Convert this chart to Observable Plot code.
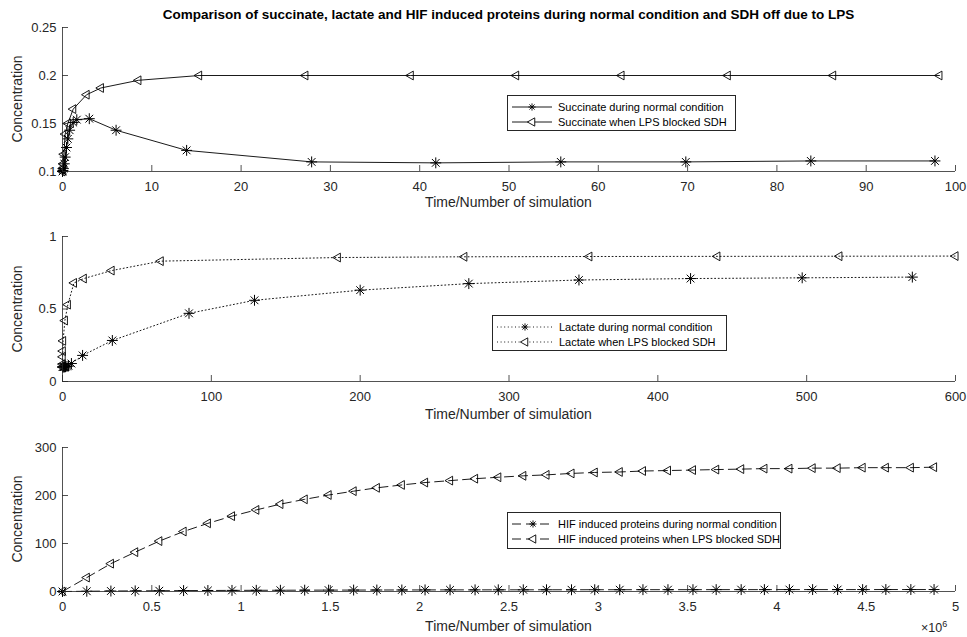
<!DOCTYPE html>
<html><head><meta charset="utf-8">
<script src="https://cdn.jsdelivr.net/npm/d3@7"></script>
<script src="https://cdn.jsdelivr.net/npm/@observablehq/plot@0.6"></script>
<style>
body{margin:0;background:#fff;font-family:"Liberation Sans",Arial,sans-serif;color:#262626;}
#fig{position:relative;width:967px;height:637px;overflow:hidden;background:#fff;}
.abs{position:absolute;}
.title{left:62px;width:893px;top:7px;text-align:center;font-weight:bold;font-size:13.5px;line-height:16px;color:#000;white-space:nowrap;}
.xlab{left:62px;width:893px;text-align:center;font-size:14px;line-height:16px;white-space:nowrap;}
.ylab{font-size:14px;line-height:16px;white-space:nowrap;transform:translate(-50%,-50%) rotate(-90deg);}
.leg{background:#fff;border:1px solid #262626;box-sizing:border-box;font-size:11px;color:#000;}
.leg svg{position:absolute;left:0;top:0;overflow:visible;}
.leg .txt{position:absolute;transform:translateY(-50%);white-space:nowrap;line-height:13px;}
</style></head><body><div id="fig"></div><script>
// ---------------- data ----------------
// Panel 1: succinate
const succNormalT = [0, 0.05, 0.1, 0.2, 0.3, 0.45, 0.6, 0.8, 1.2, 1.6, 3, 6, 13.9, 27.9, 41.8, 55.8, 69.8, 83.8, 97.7];
const succNormalV = [0.100, 0.101, 0.103, 0.108, 0.115, 0.125, 0.134, 0.143, 0.151, 0.154, 0.155, 0.143, 0.122, 0.110, 0.109, 0.110, 0.110, 0.111, 0.111];
const succLpsT = [0, 0.03, 0.08, 0.15, 0.3, 0.6, 1.2, 2.7, 4.3, 8.5, 15.3, 27.2, 39, 50.8, 62.6, 74.5, 86.3, 98.2];
const succLpsV = [0.100, 0.103, 0.108, 0.118, 0.139, 0.150, 0.165, 0.180, 0.187, 0.195, 0.200, 0.200, 0.200, 0.200, 0.200, 0.200, 0.200, 0.200];
// Panel 2: lactate
const lacNormalT = [0, 0.5, 1, 1.5, 2, 3, 4, 6, 13.5, 33.5, 85, 129, 200, 273, 347, 422, 497, 571];
const lacNormalV = [0.100, 0.100, 0.100, 0.101, 0.102, 0.104, 0.107, 0.124, 0.180, 0.283, 0.470, 0.560, 0.630, 0.675, 0.700, 0.710, 0.715, 0.720];
const lacLpsT = [0, 0.05, 0.1, 0.2, 0.4, 1.6, 3.6, 7.7, 14.3, 33, 66, 185, 270, 354, 440, 522, 600];
const lacLpsV = [0.100, 0.120, 0.170, 0.210, 0.280, 0.420, 0.530, 0.680, 0.710, 0.765, 0.830, 0.855, 0.860, 0.862, 0.863, 0.864, 0.865];
// Panel 3: HIF induced proteins (time in simulation steps)
const hifT = [0, 0.136e6, 0.271e6, 0.407e6, 0.542e6, 0.678e6, 0.814e6, 0.949e6, 1.085e6, 1.22e6, 1.356e6, 1.49e6, 1.63e6, 1.76e6, 1.90e6, 2.03e6, 2.17e6, 2.31e6, 2.44e6, 2.58e6, 2.71e6, 2.85e6, 2.98e6, 3.12e6, 3.25e6, 3.39e6, 3.53e6, 3.66e6, 3.80e6, 3.93e6, 4.07e6, 4.20e6, 4.34e6, 4.48e6, 4.61e6, 4.75e6, 4.88e6];
const hifNormalV = [0, 0.5, 1, 1.3, 1.6, 1.9, 2.1, 2.3, 2.5, 2.6, 2.8, 2.9, 3.0, 3.1, 3.2, 3.3, 3.4, 3.4, 3.5, 3.5, 3.6, 3.6, 3.7, 3.7, 3.8, 3.8, 3.8, 3.9, 3.9, 3.9, 4.0, 4.0, 4.0, 4.0, 4.1, 4.1, 4.1];
const hifLpsV = [0, 29, 58, 82, 105, 125, 142, 157, 170, 182, 192, 201, 209, 216, 222, 227, 231, 235, 238, 241, 243, 246, 248, 249, 251, 252, 253, 254, 255, 256, 256, 257, 257, 258, 258, 258, 259];

// tick labels
const ticks1X = [0, 10, 20, 30, 40, 50, 60, 70, 80, 90, 100];
const ticks1Y = [0.1, 0.15, 0.2, 0.25];
const ticks2X = [0, 100, 200, 300, 400, 500, 600];
const ticks2Y = [0, 0.5, 1];
const ticks3X = [0, 0.5e6, 1e6, 1.5e6, 2e6, 2.5e6, 3e6, 3.5e6, 4e6, 4.5e6, 5e6];
const ticks3Y = [0, 100, 200, 300];

const titleText = "Comparison of succinate, lactate and HIF induced proteins during normal condition and SDH off due to LPS";
const xLabelText = "Time/Number of simulation";
const yLabelText = "Concentration";
const legend1 = ["Succinate during normal condition", "Succinate when LPS blocked SDH"];
const legend2 = ["Lactate during normal condition", "Lactate when LPS blocked SDH"];
const legend3 = ["HIF induced proteins during normal condition", "HIF induced proteins when LPS blocked SDH"];

const zip = (T, V) => T.map((t, i) => ({t, v: V[i]}));

// ---------------- drawing ----------------
const fig = document.getElementById("fig");
const AX = "#262626";

function panel({xDomain, yDomain, xTicks, yTicks, xFmt, yFmt, normal, lps, dash, top, height, mt, mb}) {
  const lineOpts = {x: "t", y: "v", stroke: "#000", strokeWidth: 0.9, strokeDasharray: dash};
  const chart = Plot.plot({
    width: 967, height,
    marginLeft: 62, marginRight: 12, marginTop: mt, marginBottom: mb,
    x: {domain: xDomain},
    y: {domain: yDomain},
    style: {fontFamily: "'Liberation Sans', Arial, sans-serif", background: "transparent", overflow: "visible", color: AX},
    marks: [
      Plot.line(normal, lineOpts),
      Plot.line(lps, lineOpts),
      Plot.dot(normal, {x: "t", y: "v", symbol: "plus", r: 3.6, stroke: "#000", strokeWidth: 1}),
      Plot.dot(normal, {x: "t", y: "v", symbol: "times", r: 3.6, stroke: "#000", strokeWidth: 1}),
      Plot.dot(lps, {x: "t", y: "v", symbol: "triangle2", r: 4.2, rotate: -90, stroke: "#000", fill: "none", strokeWidth: 0.9}),
      Plot.ruleX([xDomain[0]], {stroke: AX, strokeWidth: 0.8}),
      Plot.ruleY([yDomain[0]], {stroke: AX, strokeWidth: 0.8}),
      Plot.axisX(xTicks, {label: null, tickSize: -6, tickPadding: 16, tickFormat: xFmt, fontSize: 13, stroke: AX, fill: AX, strokeWidth: 0.8}),
      Plot.axisY(yTicks, {label: null, tickSize: -6, tickPadding: 12, tickFormat: yFmt, fontSize: 13, stroke: AX, fill: AX, strokeWidth: 0.8})
    ]
  });
  chart.classList.add("abs");
  chart.style.left = "0px";
  chart.style.top = top + "px";
  fig.appendChild(chart);
}

const fmt = d => String(+d.toFixed(4));
panel({xDomain: [0, 100], yDomain: [0.1, 0.25], xTicks: ticks1X, yTicks: ticks1Y, xFmt: fmt, yFmt: fmt,
  normal: zip(succNormalT, succNormalV), lps: zip(succLpsT, succLpsV), dash: null, top: 0, height: 215, mt: 27, mb: 44});
panel({xDomain: [0, 600], yDomain: [0, 1], xTicks: ticks2X, yTicks: ticks2Y, xFmt: fmt, yFmt: fmt,
  normal: zip(lacNormalT, lacNormalV), lps: zip(lacLpsT, lacLpsV), dash: "1,2.6", top: 215, height: 210, mt: 21, mb: 44});
panel({xDomain: [0, 5e6], yDomain: [0, 300], xTicks: ticks3X, yTicks: ticks3Y, xFmt: d => fmt(d / 1e6), yFmt: fmt,
  normal: zip(hifT, hifNormalV), lps: zip(hifT, hifLpsV), dash: "9,5", top: 425, height: 212, mt: 22, mb: 46});

function addDiv(cls, text, css) {
  const d = document.createElement("div");
  d.className = "abs " + cls;
  d.textContent = text;
  Object.assign(d.style, css);
  fig.appendChild(d);
  return d;
}
addDiv("title", titleText, {});
[194, 406, 618].forEach(y => addDiv("xlab", xLabelText, {top: y + "px"}));
[99, 309, 519].forEach(y => addDiv("ylab", yLabelText, {left: "17px", top: y + "px"}));
const sci = addDiv("", "", {left: "921px", top: "621px", fontSize: "12.5px", lineHeight: "14px", whiteSpace: "nowrap"});
sci.innerHTML = "×10<sup style='font-size:9px;vertical-align:5px;line-height:0'>6</sup>";

const NS = "http://www.w3.org/2000/svg";
function legend(labels, {left, top, width, height, rows, sampleW, textX, dash}) {
  const box = addDiv("leg", "", {left: left + "px", top: top + "px", width: width + "px", height: height + "px"});
  labels.forEach((lab, i) => {
    const y = rows[i];
    const svg = document.createElementNS(NS, "svg");
    svg.setAttribute("width", sampleW + 8); svg.setAttribute("height", height);
    const ln = document.createElementNS(NS, "line");
    ln.setAttribute("x1", 4); ln.setAttribute("x2", 4 + sampleW); ln.setAttribute("y1", y); ln.setAttribute("y2", y);
    ln.setAttribute("stroke", "#000"); ln.setAttribute("stroke-width", 0.9);
    if (dash) ln.setAttribute("stroke-dasharray", dash);
    svg.appendChild(ln);
    const cx = 4 + sampleW / 2;
    const p = document.createElementNS(NS, "path");
    if (i === 0) {
      const r = 3.6, q = r * 0.72;
      p.setAttribute("d", `M${cx - r},${y}h${2 * r}M${cx},${y - r}v${2 * r}M${cx - q},${y - q}l${2 * q},${2 * q}M${cx - q},${y + q}l${2 * q},${-2 * q}`);
      p.setAttribute("fill", "none");
    } else {
      const r = 4.6;
      p.setAttribute("d", `M${cx - r},${y}L${cx + r * 0.6},${y - r * 0.9}L${cx + r * 0.6},${y + r * 0.9}Z`);
      p.setAttribute("fill", "#fff");
    }
    p.setAttribute("stroke", "#000"); p.setAttribute("stroke-width", 0.9);
    svg.appendChild(p);
    box.appendChild(svg);
    const t = document.createElement("div");
    t.className = "txt"; t.textContent = lab;
    t.style.left = textX + "px"; t.style.top = y + "px";
    box.appendChild(t);
  });
}
legend(legend1, {left: 507, top: 95, width: 229, height: 36, rows: [11, 26], sampleW: 40, textX: 50, dash: null});
legend(legend2, {left: 492, top: 315, width: 235, height: 36, rows: [11, 26], sampleW: 56, textX: 66, dash: "1,2.6"});
legend(legend3, {left: 507, top: 512, width: 274, height: 37, rows: [11, 26], sampleW: 42, textX: 50, dash: "9,5"});
</script></body></html>
